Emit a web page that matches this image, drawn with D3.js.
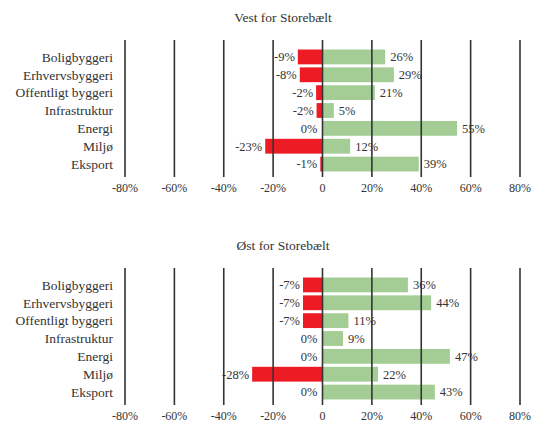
<!DOCTYPE html>
<head>
    <meta charset="utf-8">
    <title>Vest og Øst for Storebælt</title>
    <script src="https://d3js.org/d3.v7.min.js"></script>
</head>
<style>
body {
    margin: 0;
    background: #fff;
}

svg text {
    fill: #333;
    font-family: 'Liberation Serif', 'Times New Roman', Times, serif;
}
</style>
<body>
    <svg></svg>
</body>

<script>
    // Categories (same for both panels)
    var categories = ['Boligbyggeri', 'Erhvervsbyggeri', 'Offentligt byggeri', 'Infrastruktur', 'Energi', 'Miljø', 'Eksport'];

    var vestNeg = [-10, -9.2, -2.6, -2.4, 0, -23.2, -0.9];
    var vestPos = [25.4, 28.9, 21.2, 4.6, 54.5, 11.2, 39];
    var vestNegLabels = ['-9%', '-8%', '-2%', '-2%', '0%', '-23%', '-1%'];
    var vestPosLabels = ['26%', '29%', '21%', '5%', '55%', '12%', '39%'];

    // Øst for Storebælt
    var ostNeg = [-7.9, -7.9, -7.9, 0, 0, -28.5, 0];
    var ostPos = [34.6, 44, 10.5, 8.3, 51.6, 22.5, 45.5];
    var ostNegLabels = ['-7%', '-7%', '-7%', '0%', '0%', '-28%', '0%'];
    var ostPosLabels = ['36%', '44%', '11%', '9%', '47%', '22%', '43%'];

    var tickValues = [-80, -60, -40, -20, 0, 20, 40, 60, 80];

    var vWidth = 545;
    var vHeight = 423;
    var vRed = '#ed1c24';
    var vGreen = '#a3cd95';

    var svg = d3.select('svg')
        .attr('width', vWidth)
        .attr('height', vHeight)
        .attr('font-family', "'Liberation Serif', 'Times New Roman', serif");

    var x = d3.scaleLinear().domain([-80, 80]).range([125, 520]);
    var y = d3.scaleBand().domain(categories)
        .range([48, 173])
        .paddingInner(0.17)
        .paddingOuter(0.085);

    drawPanel(0, 'Vest for Storebælt', vestNeg, vestPos, vestNegLabels, vestPosLabels);
    drawPanel(228, 'Øst for Storebælt', ostNeg, ostPos, ostNegLabels, ostPosLabels);

    /**
     * Draw one of the two diverging bar panels
     */
    function drawPanel(offset, title, neg, pos, negLabels, posLabels) {
        var g = svg.append('g').attr('transform', 'translate(0,' + offset + ')');

        g.append('text')
            .attr('x', 283)
            .attr('y', 17)
            .attr('dy', '0.35em')
            .attr('text-anchor', 'middle')
            .style('font-size', '13.5px')
            .text(title);

        // negative bars
        g.selectAll('rect.neg').data(neg).enter().append('rect')
            .attr('class', 'neg')
            .attr('x', function (d) { return x(d); })
            .attr('y', function (d, i) { return y(categories[i]); })
            .attr('width', function (d) { return x(0) - x(d); })
            .attr('height', y.bandwidth())
            .style('fill', vRed);

        // positive bars
        g.selectAll('rect.pos').data(pos).enter().append('rect')
            .attr('class', 'pos')
            .attr('x', x(0))
            .attr('y', function (d, i) { return y(categories[i]); })
            .attr('width', function (d) { return x(d) - x(0); })
            .attr('height', y.bandwidth())
            .style('fill', vGreen);

        // vertical grid lines sit on top of the bars
        g.selectAll('line.grid').data(tickValues).enter().append('line')
            .attr('class', 'grid')
            .attr('x1', function (d) { return x(d); })
            .attr('x2', function (d) { return x(d); })
            .attr('y1', 40)
            .attr('y2', 177)
            .style('stroke', '#333')
            .style('stroke-width', 1.6);

        // category labels
        g.selectAll('text.cat').data(categories).enter().append('text')
            .attr('class', 'cat')
            .attr('x', 113)
            .attr('y', function (d) { return y(d) + y.bandwidth() / 2; })
            .attr('dy', '0.35em')
            .attr('text-anchor', 'end')
            .style('font-size', '13.5px')
            .text(function (d) { return d; });

        // value labels (zero values sit a little further from the axis)
        g.selectAll('text.negv').data(neg).enter().append('text')
            .attr('class', 'negv')
            .attr('x', function (d) { return d === 0 ? x(0) - 5 : x(d) - 3; })
            .attr('y', function (d, i) { return y(categories[i]) + y.bandwidth() / 2; })
            .attr('dy', '0.35em')
            .attr('text-anchor', 'end')
            .style('font-size', '12.5px')
            .text(function (d, i) { return negLabels[i]; });

        g.selectAll('text.posv').data(pos).enter().append('text')
            .attr('class', 'posv')
            .attr('x', function (d) { return x(d) + 5; })
            .attr('y', function (d, i) { return y(categories[i]) + y.bandwidth() / 2; })
            .attr('dy', '0.35em')
            .style('font-size', '12.5px')
            .text(function (d, i) { return posLabels[i]; });

        // tick labels
        g.selectAll('text.tick').data(tickValues).enter().append('text')
            .attr('class', 'tick')
            .attr('x', function (d) { return x(d); })
            .attr('y', 188)
            .attr('dy', '0.35em')
            .attr('text-anchor', 'middle')
            .style('font-size', '12px')
            .text(function (d) { return d === 0 ? '0' : d + '%'; });
    }
</script>
